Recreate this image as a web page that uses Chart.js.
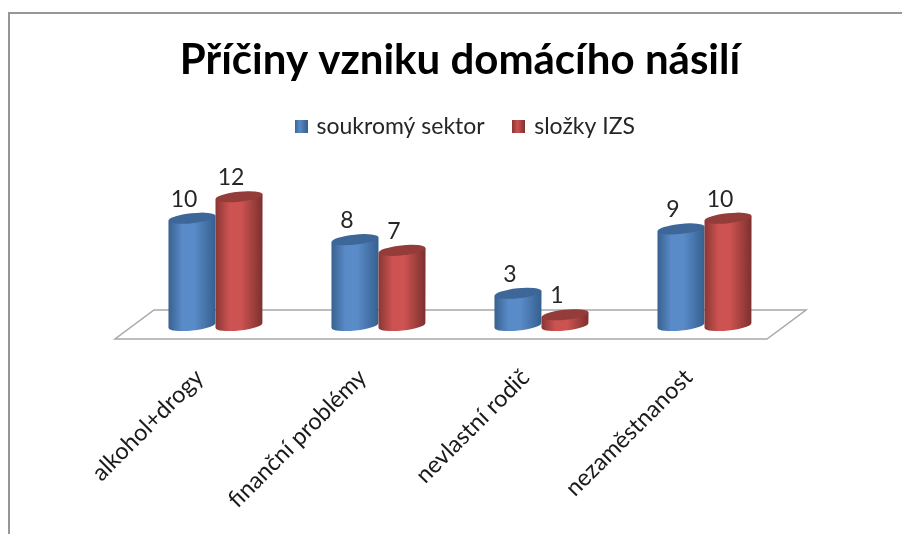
<!DOCTYPE html>
<html lang="cs">
<head>
<meta charset="utf-8">
<title>Příčiny vzniku domácího násilí</title>
<script src="https://cdnjs.cloudflare.com/ajax/libs/Chart.js/4.4.1/chart.umd.min.js"></script>
<style>
  html,body{margin:0;padding:0;background:#fff;overflow:hidden}
  #wrap{position:relative;width:902px;height:534px}
  #frame{position:absolute;left:8px;top:12px;right:0;bottom:0;border-top:2px solid #969696;border-left:2px solid #969696;pointer-events:none}
  canvas{position:absolute;left:0;top:0}
</style>
</head>
<body>
<div id="wrap">
  <canvas id="chart" width="902" height="534"></canvas>
  <div id="frame"></div>
</div>
<script>
const chartTitle = 'Příčiny vzniku domácího násilí';
const categories = ['alkohol+drogy', 'finanční problémy', 'nevlastní rodič', 'nezaměstnanost'];
const seriesNames = ['soukromý sektor', 'složky IZS'];
const soukromySektor = [10, 8, 3, 9];
const slozkyIzs = [12, 7, 1, 10];

const FONT = 'Lato, "Open Sans", sans-serif';

// shading of each cylinder: edge, highlight, edge, then the cap colour
const SHADES = [
  {edge:'#38618f', mid:'#5a8bc9', edge2:'#35608f', cap:'#3d6798'},
  {edge:'#8a3735', mid:'#cc5351', edge2:'#7c302e', cap:'#933c3a'},
];

// small shaded square for the legend
function legendMarker(s){
  const c = document.createElement('canvas');
  c.width = 13; c.height = 13;
  const x = c.getContext('2d');
  const g = x.createLinearGradient(0, 0, 13, 0);
  g.addColorStop(0, s.edge);
  g.addColorStop(.4, s.mid);
  g.addColorStop(1, s.edge2);
  x.fillStyle = g;
  x.fillRect(0, 0, 13, 13);
  return c;
}

// floor, cylinders and value labels are painted around the normal bar pass
const cylinders = {
  id:'cylinders',
  afterLayout(chart){
    // the legend sits a little right of the title in the reference
    chart.legend.left += 6;
    chart.legend.right += 6;
  },
  beforeDatasetsDraw(chart){
    const {ctx, chartArea:a} = chart;
    const base = chart.scales.y.getPixelForValue(0);
    ctx.save();
    ctx.strokeStyle = '#a8a8a8';
    ctx.lineWidth = 1.5;
    ctx.beginPath();
    ctx.moveTo(a.left-19, base+13.5);
    ctx.lineTo(a.right-19, base+13.5);
    ctx.lineTo(a.right+20, base-15.5);
    ctx.lineTo(a.left+20, base-15.5);
    ctx.closePath();
    ctx.stroke();
    ctx.restore();
  },
  beforeDatasetDraw(){ return false; },
  afterDatasetsDraw(chart){
    const {ctx} = chart;
    const tilt = -6*Math.PI/180, ry = 5;
    chart.data.datasets.forEach((ds, di) => {
      const s = SHADES[di];
      chart.getDatasetMeta(di).data.forEach(bar => {
        const rx = bar.width/2, top = bar.y, base = bar.base;
        const dy = rx*Math.sin(tilt);
        const g = ctx.createLinearGradient(bar.x-rx, 0, bar.x+rx, 0);
        g.addColorStop(0, s.edge);
        g.addColorStop(.3, s.mid);
        g.addColorStop(.55, s.mid);
        g.addColorStop(1, s.edge2);
        ctx.save();
        ctx.fillStyle = g;
        ctx.beginPath();
        ctx.moveTo(bar.x-rx, top-dy);
        ctx.lineTo(bar.x-rx, base-dy);
        ctx.ellipse(bar.x, base, rx, ry, tilt, Math.PI, 0, true);
        ctx.lineTo(bar.x+rx, top+dy);
        ctx.closePath();
        ctx.fill();
        ctx.fillStyle = s.cap;
        ctx.beginPath();
        ctx.ellipse(bar.x, top, rx, ry, tilt, 0, Math.PI*2);
        ctx.fill();
        ctx.restore();
      });
    });
    ctx.save();
    ctx.fillStyle = '#262626';
    ctx.font = '23px '+FONT;
    ctx.textAlign = 'center';
    ctx.textBaseline = 'middle';
    chart.data.datasets.forEach((ds, di) => {
      chart.getDatasetMeta(di).data.forEach((bar, i) => {
        ctx.fillText(String(ds.data[i]), bar.x-8, bar.y-19);
      });
    });
    ctx.restore();
  },
};

new Chart(document.getElementById('chart'), {
  type:'bar',
  data:{
    labels:categories,
    datasets:[
      {label:seriesNames[0], data:soukromySektor, backgroundColor:'#4f81bd', borderWidth:0, pointStyle:legendMarker(SHADES[0])},
      {label:seriesNames[1], data:slozkyIzs, backgroundColor:'#c0504d', borderWidth:0, pointStyle:legendMarker(SHADES[1])},
    ],
  },
  options:{
    responsive:false, animation:false,
    layout:{padding:{left:134, right:116, top:35, bottom:0}},
    datasets:{bar:{barPercentage:1, categoryPercentage:.577}},
    plugins:{
      title:{display:true, text:chartTitle, color:'#000', font:{family:FONT, size:42, weight:'bold'}, padding:{top:0, bottom:0}},
      legend:{display:true, position:'top', labels:{usePointStyle:true, pointStyleWidth:8, boxHeight:13, padding:30, color:'#262626', font:{family:FONT, size:23}}},
      tooltip:{enabled:false},
    },
    scales:{
      x:{
        grid:{display:false}, border:{display:false},
        afterFit(scale){ scale.height = 208.5; },
        ticks:{minRotation:45, maxRotation:45, padding:30, labelOffset:-16, color:'#1a1a1a', font:{family:FONT, size:23.5}},
      },
      y:{display:false, min:0, max:16.5},
    },
  },
  plugins:[cylinders],
});
</script>
</body>
</html>
